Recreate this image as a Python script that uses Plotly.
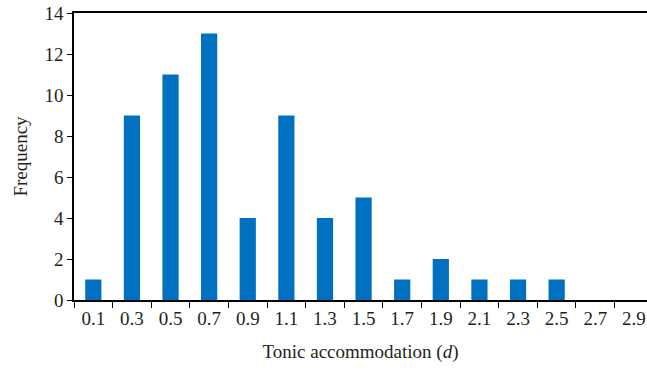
import plotly.graph_objects as go

categories = ["0.1", "0.3", "0.5", "0.7", "0.9", "1.1", "1.3", "1.5",
              "1.7", "1.9", "2.1", "2.3", "2.5", "2.7", "2.9"]
frequency = [1, 9, 11, 13, 4, 9, 4, 5, 1, 2, 1, 1, 1, 0, 0]
y_ticks = [0, 2, 4, 6, 8, 10, 12, 14]

FONT = "Liberation Serif"
TXT = "#231F20"
SIZE = 19

fig = go.Figure(go.Bar(
    x=categories, y=frequency,
    marker=dict(color="#0070C0", line=dict(width=0)),
    width=0.42,
))

fig.update_layout(
    width=647, height=370,
    margin=dict(l=74, r=0, t=13, b=70, autoexpand=False),
    paper_bgcolor="white", plot_bgcolor="white",
    font=dict(family=FONT, size=SIZE, color=TXT),
    showlegend=False,
    xaxis=dict(
        type="category",
        range=[-0.5, 14.34],
        automargin=False,
        showline=True, linecolor="black", linewidth=1.5,
        mirror=True,
        ticks="outside", ticklen=6, tickcolor="black", tickwidth=1,
        tickson="boundaries",
        showgrid=False,
        tickfont=dict(family=FONT, size=SIZE, color=TXT),
        tickangle=0,
        title=dict(text="Tonic accommodation (<i>d</i>)", standoff=17,
                   font=dict(family=FONT, size=SIZE, color=TXT)),
    ),
    yaxis=dict(
        range=[0, 14], tickvals=y_ticks,
        automargin=False,
        showline=True, linecolor="black", linewidth=1.5,
        ticks="outside", ticklen=5, tickcolor="black", tickwidth=1,
        showgrid=False, zeroline=False,
        tickfont=dict(family=FONT, size=SIZE, color=TXT),
        title=dict(text="Frequency", standoff=12,
                   font=dict(family=FONT, size=SIZE, color=TXT)),
    ),
)

fig.write_html("out.html")
